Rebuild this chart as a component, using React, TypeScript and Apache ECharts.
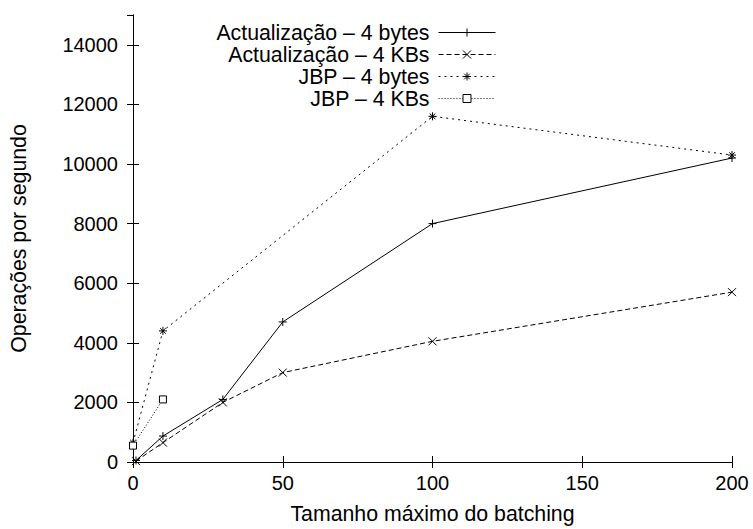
import React, { useEffect, useRef } from "react";
import * as echarts from "echarts";

const seriesNames = [
  "Actualização – 4 bytes",
  "Actualização – 4 KBs",
  "JBP – 4 bytes",
  "JBP – 4 KBs",
];

const upd4bX = [1, 10, 30, 50, 100, 200];
const upd4bY = [50, 870, 2100, 4700, 8000, 10200];

const upd4kX = [1, 10, 30, 50, 100, 200];
const upd4kY = [30, 650, 2000, 3000, 4050, 5700];

const jbp4bX = [0, 10, 100, 200];
const jbp4bY = [650, 4400, 11600, 10300];

const jbp4kX = [0, 10];
const jbp4kY = [550, 2100];

const xTitle = "Tamanho máximo do batching";
const yTitle = "Operações por segundo";

const FONT = "'Liberation Sans', Arial, Helvetica, sans-serif";

const zip = (xs: number[], ys: number[]) => xs.map((x, i) => [x, ys[i]]);

const PLUS = "path://M0,5L10,5M5,0L5,10";
const CROSS = "path://M0,0L10,10M10,0L0,10";
const STAR = "path://M0,5L10,5M5,0L5,10M1.5,1.5L8.5,8.5M8.5,1.5L1.5,8.5";
const SQUARE = "path://M0,0L10,0L10,10L0,10Z";

export default function App() {
  const ref = useRef<HTMLDivElement>(null);
  useEffect(() => {
    if (!ref.current) return;
    const chart = echarts.init(ref.current, undefined, { renderer: "svg" });
    const mkSeries = (
      name: string,
      data: number[][],
      symbol: string,
      size: number,
      lineType: any,
      fill = "#000"
    ) => ({
      type: "line",
      name,
      data,
      symbol,
      symbolSize: size,
      showSymbol: true,
      clip: false,
      xAxisIndex: 0,
      yAxisIndex: 0,
      lineStyle: { color: "#000", width: 1, type: lineType },
      itemStyle: { color: fill, borderColor: "#000", borderWidth: 1 },
      emphasis: { disabled: true },
    });
    const axisCommon = {
      axisLine: { show: true, lineStyle: { color: "#000", width: 1 } },
      axisTick: { show: true, inside: true, length: 6, lineStyle: { color: "#000" } },
      splitLine: { show: false },
    };
    const plain = (v: number) => String(v);
    chart.setOption({
      animation: false,
      backgroundColor: "#fff",
      textStyle: { fontFamily: FONT },
      grid: { left: 133, right: 21, top: 15, bottom: 65, containLabel: false },
      legend: {
        orient: "vertical",
        align: "right",
        right: 257,
        top: 22,
        padding: 0,
        itemGap: 1,
        itemWidth: 57,
        itemHeight: 10,
        selectedMode: false,
        lineStyle: { width: 1 },
        itemStyle: { borderWidth: 1 },
        textStyle: { fontFamily: FONT, fontSize: 21.3, color: "#000", padding: [0, 4, 0, 0] },
        data: seriesNames,
      },
      xAxis: [
        {
          type: "value",
          min: 0,
          max: 200,
          interval: 50,
          name: xTitle,
          nameLocation: "middle",
          nameGap: 41,
          nameTextStyle: { fontFamily: FONT, fontSize: 21.3, color: "#000" },
          axisLabel: { fontFamily: FONT, fontSize: 20, color: "#000", margin: 11, formatter: plain },
          ...axisCommon,
        },
        {
          type: "value",
          position: "top",
          min: 0,
          max: 200,
          interval: 50,
          axisLabel: { show: false },
          ...axisCommon,
        },
      ],
      yAxis: [
        {
          type: "value",
          min: 0,
          max: 15000,
          interval: 2000,
          name: yTitle,
          nameLocation: "middle",
          nameGap: 104,
          nameTextStyle: { fontFamily: FONT, fontSize: 21.3, color: "#000" },
          axisLabel: {
            fontFamily: FONT,
            fontSize: 20,
            color: "#000",
            margin: 15,
            showMaxLabel: false,
            formatter: plain,
          },
          ...axisCommon,
        },
        {
          type: "value",
          position: "right",
          min: 0,
          max: 15000,
          interval: 2000,
          axisLabel: { show: false },
          ...axisCommon,
        },
      ],
      series: [
        mkSeries(seriesNames[0], zip(upd4bX, upd4bY), PLUS, 8, "solid"),
        mkSeries(seriesNames[1], zip(upd4kX, upd4kY), CROSS, 8, [5, 3]),
        mkSeries(seriesNames[2], zip(jbp4bX, jbp4bY), STAR, 8, [2, 4]),
        mkSeries(seriesNames[3], zip(jbp4kX, jbp4kY), SQUARE, 7, [1, 2], "#fff"),
      ],
    });
    return () => chart.dispose();
  }, []);
  return (
    <div
      ref={ref}
      style={{ position: "absolute", left: 0, top: 0, width: 753, height: 529 }}
    />
  );
}
